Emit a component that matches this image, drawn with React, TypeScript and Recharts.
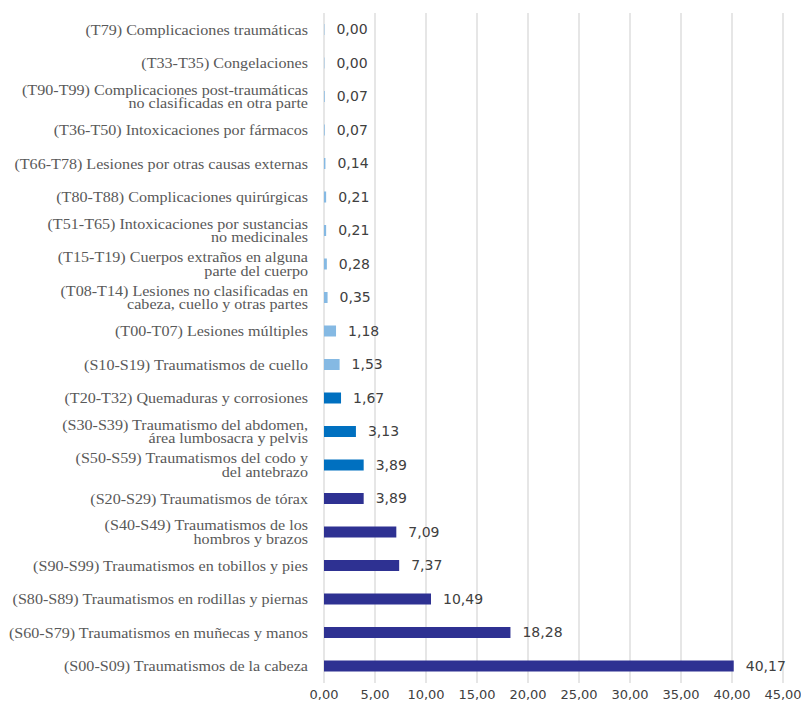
import React from 'react';
import { BarChart, Bar, XAxis, YAxis, CartesianGrid, Cell, LabelList } from 'recharts';

const categories: string[] = [
  '(T79) Complicaciones traumáticas',
  '(T33-T35) Congelaciones',
  '(T90-T99) Complicaciones post-traumáticas\nno clasificadas en otra parte',
  '(T36-T50) Intoxicaciones por fármacos',
  '(T66-T78) Lesiones por otras causas externas',
  '(T80-T88) Complicaciones quirúrgicas',
  '(T51-T65) Intoxicaciones por sustancias\nno medicinales',
  '(T15-T19) Cuerpos extraños en alguna\nparte del cuerpo',
  '(T08-T14) Lesiones no clasificadas en\ncabeza, cuello y otras partes',
  '(T00-T07) Lesiones múltiples',
  '(S10-S19) Traumatismos de cuello',
  '(T20-T32) Quemaduras y corrosiones',
  '(S30-S39) Traumatismo del abdomen,\nárea lumbosacra y pelvis',
  '(S50-S59) Traumatismos del codo y\ndel antebrazo',
  '(S20-S29) Traumatismos de tórax',
  '(S40-S49) Traumatismos de los\nhombros y brazos',
  '(S90-S99) Traumatismos en tobillos y pies',
  '(S80-S89) Traumatismos en rodillas y piernas',
  '(S60-S79) Traumatismos en muñecas y manos',
  '(S00-S09) Traumatismos de la cabeza',
];

const values: number[] = [
  0.0, 0.0, 0.07, 0.07, 0.14, 0.21, 0.21, 0.28, 0.35, 1.18,
  1.53, 1.67, 3.13, 3.89, 3.89, 7.09, 7.37, 10.49, 18.28, 40.17,
];

const xTicks: number[] = [0, 5, 10, 15, 20, 25, 30, 35, 40, 45];

const LIGHT = '#85B9E3';
const MEDIUM = '#0070C0';
const NAVY = '#2E3192';
const barColors: string[] = [
  LIGHT, LIGHT, LIGHT, LIGHT, LIGHT, LIGHT, LIGHT, LIGHT, LIGHT, LIGHT,
  LIGHT, MEDIUM, MEDIUM, MEDIUM, NAVY, NAVY, NAVY, NAVY, NAVY, NAVY,
];

const data = categories.map((name, i) => ({ name, value: values[i] }));

const fmt = (v: any) => Number(v).toFixed(2).replace('.', ',');

const CategoryTick = (props: any) => {
  const { x, y, payload } = props;
  const lines: string[] = String(payload.value).split('\n');
  const n = lines.length;
  const lh = 13.5;
  return (
    <g transform={`translate(${x},${y})`}>
      <g transform="scale(1.15,1)">
        {lines.map((l, i) => (
          <text
            key={i}
            x={0}
            y={(i - (n - 1) / 2) * lh}
            dy="0.35em"
            textAnchor="end"
            fill="#595959"
            fontSize={14}
            fontFamily="'Liberation Serif', 'Times New Roman', serif"
          >
            {l}
          </text>
        ))}
      </g>
    </g>
  );
};

export default function App() {
  return (
    <div style={{ position: 'absolute', left: 0, top: 0, background: '#fff' }}>
      <BarChart
        width={801}
        height={704}
        data={data}
        layout="vertical"
        margin={{ top: 13, right: 18, bottom: 0, left: 0 }}
      >
        <CartesianGrid horizontal={false} vertical={true} stroke="#D9D9D9" strokeWidth={1.3} />
        <XAxis
          type="number"
          domain={[0, 45]}
          ticks={xTicks}
          interval={0}
          tickFormatter={fmt}
          axisLine={false}
          tickLine={false}
          tickSize={0}
          tickMargin={7}
          height={21}
          tick={{ fill: '#404040', fontSize: 13, fontFamily: "'DejaVu Sans', sans-serif" }}
        />
        <YAxis
          type="category"
          dataKey="name"
          width={324}
          axisLine={false}
          tickLine={false}
          tickSize={0}
          tickMargin={16}
          interval={0}
          tick={<CategoryTick />}
        />
        <Bar dataKey="value" barSize={11} minPointSize={0.4} isAnimationActive={false}>
          {data.map((_, i) => (
            <Cell key={i} fill={barColors[i]} />
          ))}
          <LabelList
            dataKey="value"
            position="right"
            offset={12}
            formatter={fmt}
            fill="#404040"
            fontSize={14}
            fontFamily="'DejaVu Sans', sans-serif"
          />
        </Bar>
      </BarChart>
    </div>
  );
}
